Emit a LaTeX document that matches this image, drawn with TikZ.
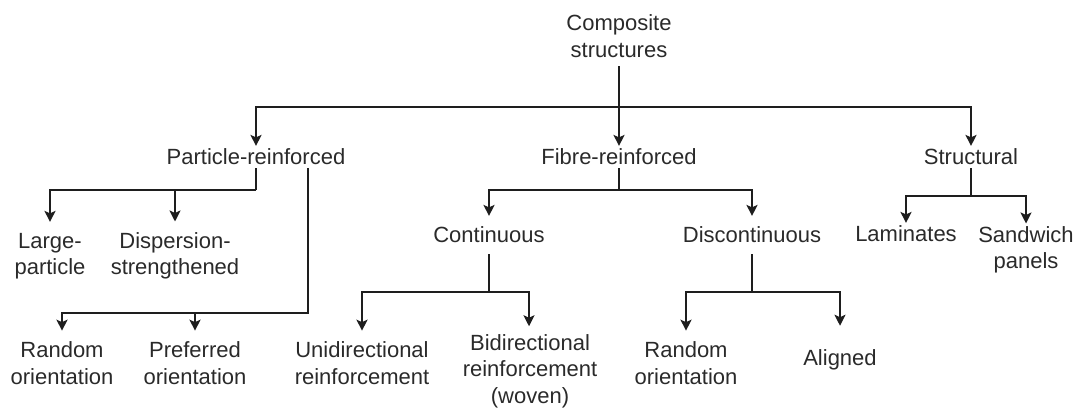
\documentclass[tikz,border=0pt]{standalone}
\usepackage{fontspec}
\setmainfont{Liberation Sans}
\usetikzlibrary{arrows.meta}
\definecolor{ink}{HTML}{1E1E1E}
\definecolor{txt}{HTML}{2A2A2A}
\begin{document}
\begin{tikzpicture}[x=1pt,y=-1pt,
  lbl/.style={font=\fontsize{22}{26.5}\selectfont, align=center,
              inner sep=0pt, outer sep=3pt, text=txt},
  low/.style={lbl, outer ysep=11pt},
  ln/.style={draw=ink, line width=2pt},
  arr/.style={ln, -{Stealth[length=11pt,width=11pt,inset=2.5pt]}}]
\useasboundingbox (0,0) rectangle (1075,408);

% classification labels
\node[lbl, outer ysep=9pt] (root) at (619,36) {Composite\\structures};
\node[lbl] (part)   at (256,157) {Particle-reinforced};
\node[lbl] (fibre)  at (619,157) {Fibre-reinforced};
\node[lbl] (struct) at (971,157) {Structural};

\node[low] (large) at (50,256)  {Large-\\particle};
\node[low] (disp)  at (175,256) {Dispersion-\\strengthened};
\node[low] (rand1) at (62,363)  {Random\\orientation};
\node[low] (pref)  at (195,363) {Preferred\\orientation};

\node[low] (cont) at (489,235) {Continuous};
\node[low] (disc) at (752,235) {Discontinuous};
\node[low] (uni)  at (362,363) {Unidirectional\\reinforcement};
\node[low, outer ysep=8pt] (bi) at (530,371) {Bidirectional\\reinforcement\\(woven)};
\node[low] (rand2) at (686,363) {Random\\orientation};
\node[lbl, outer ysep=24pt] (aligned) at (840,360) {Aligned};

\node[lbl] (lam)  at (906,234)  {Laminates};
\node[lbl] (sand) at (1026,250) {Sandwich\\panels};

% bus points of the branches
\coordinate (rbus) at (619,107);
\coordinate (pbus) at (256,190);
\coordinate (qbus) at (308,313);
\coordinate (fbus) at (619,190);
\coordinate (cbus) at (489,292);
\coordinate (dbus) at (752,292);
\coordinate (sbus) at (971,196);

% top level
\draw[ln]  (root.south) -- (rbus);
\draw[arr] (rbus) -| (part.north);
\draw[arr] (rbus) -- (fibre.north);
\draw[arr] (rbus) -| (struct.north);

% particle-reinforced
\draw[ln]  (part.south) -- (pbus);
\draw[arr] (pbus) -| (large.north);
\draw[arr] (pbus -| disp.north) -- (disp.north);
\draw[arr] (part.south -| qbus) -- (qbus) -| (rand1.north);
\draw[arr] (qbus -| pref.north) -- (pref.north);

% fibre-reinforced
\draw[ln]  (fibre.south) -- (fbus);
\draw[arr] (fbus) -| (cont.north);
\draw[arr] (fbus) -| (disc.north);
\draw[ln]  (cont.south) -- (cbus);
\draw[arr] (cbus) -| (uni.north);
\draw[arr] (cbus) -| ([xshift=-1pt]bi.north);
\draw[ln]  (disc.south) -- (dbus);
\draw[arr] (dbus) -| (rand2.north);
\draw[arr] (dbus) -| (aligned.north);

% structural
\draw[ln]  (struct.south) -- (sbus);
\draw[arr] (sbus) -| (lam.north);
\draw[arr] (sbus) -| (sand.north);
\end{tikzpicture}
\end{document}
